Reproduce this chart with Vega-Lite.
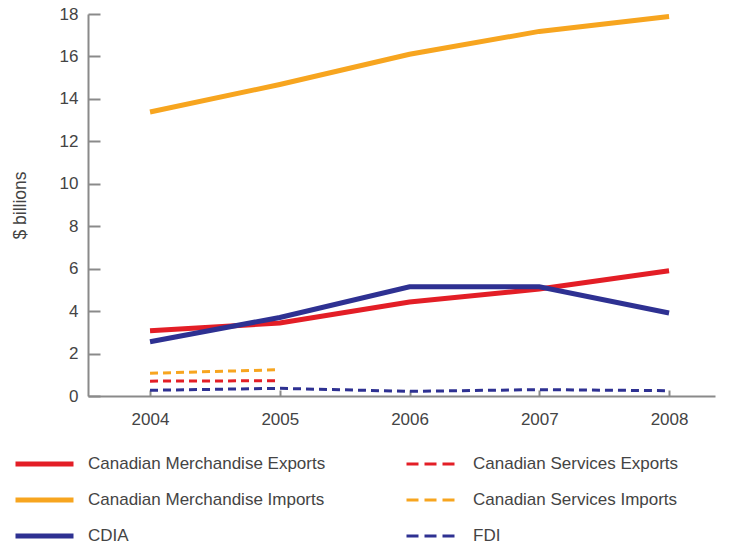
{
  "$schema": "https://vega.github.io/schema/vega-lite/v6.json",
  "width": 627,
  "height": 382,
  "autosize": {"type": "none"},
  "padding": {"left": 88, "top": 14, "right": 16, "bottom": 153},
  "background": "white",
  "config": {
    "view": {"stroke": null},
    "font": "Liberation Sans",
    "axis": {
      "domainColor": "#8a8a8a",
      "domainWidth": 2,
      "tickColor": "#8a8a8a",
      "tickWidth": 2,
      "grid": false,
      "labelColor": "#444444",
      "labelFont": "Liberation Sans",
      "labelFontSize": 17,
      "titleFont": "Liberation Sans",
      "titleColor": "#444444",
      "titleFontWeight": "normal"
    },
    "legend": {
      "labelFont": "Liberation Sans",
      "labelFontSize": 17,
      "labelColor": "#444444",
      "labelLimit": 400,
      "title": null,
      "orient": "none",
      "direction": "vertical",
      "rowPadding": 16,
      "clipHeight": 20,
      "symbolType": "stroke"
    }
  },
  "data": {
    "values": [
      {"year": 2004, "series": "Canadian Merchandise Exports", "value": 3.08},
      {"year": 2005, "series": "Canadian Merchandise Exports", "value": 3.44},
      {"year": 2006, "series": "Canadian Merchandise Exports", "value": 4.43},
      {"year": 2007, "series": "Canadian Merchandise Exports", "value": 5.04},
      {"year": 2008, "series": "Canadian Merchandise Exports", "value": 5.9},
      {"year": 2004, "series": "Canadian Services Exports", "value": 0.7},
      {"year": 2005, "series": "Canadian Services Exports", "value": 0.72},
      {"year": 2004, "series": "Canadian Merchandise Imports", "value": 13.38},
      {"year": 2005, "series": "Canadian Merchandise Imports", "value": 14.68},
      {"year": 2006, "series": "Canadian Merchandise Imports", "value": 16.1},
      {"year": 2007, "series": "Canadian Merchandise Imports", "value": 17.18},
      {"year": 2008, "series": "Canadian Merchandise Imports", "value": 17.88},
      {"year": 2004, "series": "Canadian Services Imports", "value": 1.07},
      {"year": 2005, "series": "Canadian Services Imports", "value": 1.24},
      {"year": 2004, "series": "CDIA", "value": 2.56},
      {"year": 2005, "series": "CDIA", "value": 3.7},
      {"year": 2006, "series": "CDIA", "value": 5.15},
      {"year": 2007, "series": "CDIA", "value": 5.15},
      {"year": 2008, "series": "CDIA", "value": 3.91},
      {"year": 2004, "series": "FDI", "value": 0.27},
      {"year": 2005, "series": "FDI", "value": 0.36},
      {"year": 2006, "series": "FDI", "value": 0.22},
      {"year": 2007, "series": "FDI", "value": 0.3},
      {"year": 2008, "series": "FDI", "value": 0.25}
    ]
  },
  "encoding": {
    "x": {
      "field": "year",
      "type": "quantitative",
      "scale": {"domain": [2003.522, 2008.354], "nice": false, "zero": false},
      "axis": {
        "title": null,
        "values": [2004, 2005, 2006, 2007, 2008],
        "format": "d",
        "tickSize": -6,
        "labelPadding": 21
      }
    },
    "y": {
      "field": "value",
      "type": "quantitative",
      "scale": {"domain": [0, 18], "nice": false},
      "axis": {
        "title": "$ billions",
        "values": [0, 2, 4, 6, 8, 10, 12, 14, 16, 18],
        "tickSize": -12,
        "labelPadding": 22,
        "titleFontSize": 17.5,
        "titleX": -68,
        "titleY": 191,
        "titleAngle": -90,
        "titleAlign": "center",
        "titleBaseline": "middle"
      }
    }
  },
  "layer": [
    {
      "transform": [
        {"filter": {"field": "series", "oneOf": ["Canadian Merchandise Exports", "Canadian Merchandise Imports", "CDIA"]}}
      ],
      "mark": {"type": "line", "strokeWidth": 5, "strokeCap": "butt"},
      "encoding": {
        "color": {
          "field": "series",
          "type": "nominal",
          "scale": {
            "domain": ["Canadian Merchandise Exports", "Canadian Merchandise Imports", "CDIA"],
            "range": ["#e31e26", "#f7a51f", "#2e3192"]
          },
          "legend": {
            "legendX": -75,
            "legendY": 440,
            "symbolSize": 3364,
            "symbolStrokeWidth": 5,
            "labelOffset": 12
          }
        }
      }
    },
    {
      "transform": [
        {"filter": {"field": "series", "oneOf": ["Canadian Services Exports", "Canadian Services Imports", "FDI"]}}
      ],
      "mark": {"type": "line", "strokeWidth": 3, "strokeDash": [8, 5], "strokeCap": "butt"},
      "encoding": {
        "color": {
          "field": "series",
          "type": "nominal",
          "scale": {
            "domain": ["Canadian Services Exports", "Canadian Services Imports", "FDI"],
            "range": ["#e31e26", "#f7a51f", "#2e3192"]
          },
          "legend": {
            "legendX": 317,
            "legendY": 440,
            "symbolSize": 2304,
            "symbolStrokeWidth": 3,
            "symbolDash": [12, 6],
            "labelOffset": 17
          }
        }
      }
    }
  ],
  "resolve": {"scale": {"color": "independent"}, "legend": {"color": "independent"}}
}
